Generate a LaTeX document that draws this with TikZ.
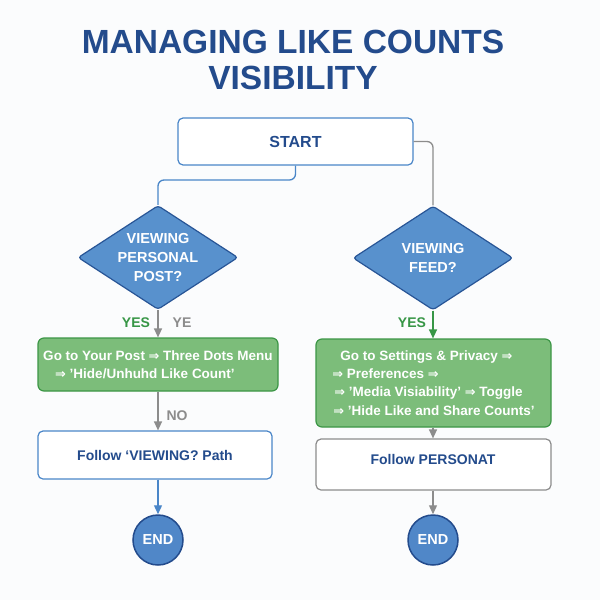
\documentclass[tikz,border=0pt]{standalone}
\usepackage{fontspec}
\setmainfont{Liberation Sans}
\newfontfamily\dv{DejaVu Sans}
\usetikzlibrary{shapes.geometric,arrows.meta}
\definecolor{titleblue}{RGB}{35,75,140}
\definecolor{boxblue}{RGB}{74,134,200}
\definecolor{diafill}{RGB}{88,145,205}
\definecolor{diadraw}{RGB}{40,85,150}
\definecolor{gfill}{RGB}{124,189,122}
\definecolor{gdraw}{RGB}{60,150,70}
\definecolor{gtext}{RGB}{55,150,70}
\definecolor{greyc}{RGB}{140,140,140}
\definecolor{endfill}{RGB}{80,135,200}
\definecolor{bgc}{RGB}{251,252,253}
\newcommand{\ar}{{\dv\scalebox{0.95}{⇒}}}
\begin{document}
\begin{tikzpicture}[x=1pt,y=-1pt,
  every node/.style={font=\bfseries},
  whitebox/.style={draw=boxblue,line width=1.2pt,fill=white,rounded corners=5pt,inner sep=0pt,text=titleblue,font=\fontsize{14}{17}\bfseries\selectfont},
  greybox/.style={whitebox,draw=greyc},
  decision/.style={diamond,draw=diadraw,fill=diafill,line width=1.2pt,rounded corners=3pt,inner sep=0pt,minimum width=160pt,minimum height=104pt},
  diatext/.style={text=white,align=center,font=\fontsize{14.5}{19}\bfseries\selectfont},
  greenbox/.style={draw=gdraw,fill=gfill,line width=1.2pt,rounded corners=6pt,inner sep=0pt,text=white,align=left,font=\fontsize{13.5}{18.3}\bfseries\selectfont},
  endnode/.style={circle,draw=titleblue,fill=endfill,line width=1.5pt,minimum size=50pt,inner sep=0pt,text=white,font=\fontsize{14.5}{17}\bfseries\selectfont},
  conn/.style={line width=1.3pt,rounded corners=6pt},
  arr/.style={conn,-{Triangle[length=9pt,width=8pt]}},
  lbl/.style={font=\fontsize{14}{17}\bfseries\selectfont}
]
\fill[bgc] (0,0) rectangle (600,600);
\useasboundingbox (0,0) rectangle (600,600);
\node[text=titleblue,align=center,font=\fontsize{33.5}{36}\bfseries\selectfont] (title) at (293,59.5) {MANAGING LIKE COUNTS\\VISIBILITY};

\node[whitebox,minimum width=235pt,minimum height=47pt,font=\fontsize{16}{19}\bfseries\selectfont] (start) at (295.5,141.5) {START};

\node[decision] (d1) at (158,257.5) {};
\node[diatext] (d1t) at (158,258) {VIEWING\\PERSONAL\\POST?};
\node[decision] (d2) at (433,258) {};
\node[diatext] (d2t) at (433,258) {VIEWING\\FEED?};

\node[greenbox,minimum width=240pt,minimum height=53pt] (g1) at (158,364.5) {Go to Your Post \ar{} Three Dots Menu\\\hspace*{12pt}\ar{} 'Hide/Unhuhd Like Count'};
\node[greenbox,minimum width=235pt,minimum height=88pt] (g2) at (433.5,383) {\hspace*{8pt}Go to Settings \& Privacy \ar\\\ar{} Preferences \ar\\\hspace*{2pt}\ar{} 'Media Visiability' \ar{} Toggle\\\hspace*{1pt}\ar{} 'Hide Like and Share Counts'};

\node[whitebox,minimum width=234pt,minimum height=48pt] (f1) at (155,455) {Follow ‘VIEWING? Path};
\node[greybox,minimum width=235pt,minimum height=51pt] (f2) at (433.5,464.5) {};
\node[text=titleblue,font=\fontsize{14}{17}\bfseries\selectfont] (f2t) at (433,459) {Follow PERSONAT};

\node[endnode] (e1) at (158,540) {END};
\node[endnode] (e2) at (433,540) {END};

\draw[conn,draw=boxblue] (start.south) -- (295.5,180) -- (158,180) -- (d1.north);
\draw[conn,draw=greyc] (start.east) -- (433,141.5) -- (d2.north);
\draw[arr,draw=greyc,fill=greyc] (d1.south) -- (g1.north);
\node[lbl,text=gtext] (yes1) at (136,323) {YES};
\node[lbl,text=greyc] (ye1) at (182,323) {YE};
\draw[arr,draw=gtext,fill=gtext] (d2.south) -- (g2.north -| d2.south);
\node[lbl,text=gtext] (yes2) at (412,323) {YES};
\draw[arr,draw=greyc,fill=greyc] (g1.south) -- (g1.south |- f1.north);
\node[lbl,text=greyc] (no1) at (177,416) {NO};
\draw[arr,draw=greyc,fill=greyc] (g2.south -| e2) -- (f2.north -| e2);
\draw[arr,draw=boxblue,fill=boxblue] (f1.south -| e1) -- (e1.north);
\draw[arr,draw=greyc,fill=greyc] (f2.south -| e2) -- (e2.north);
\end{tikzpicture}
\end{document}
